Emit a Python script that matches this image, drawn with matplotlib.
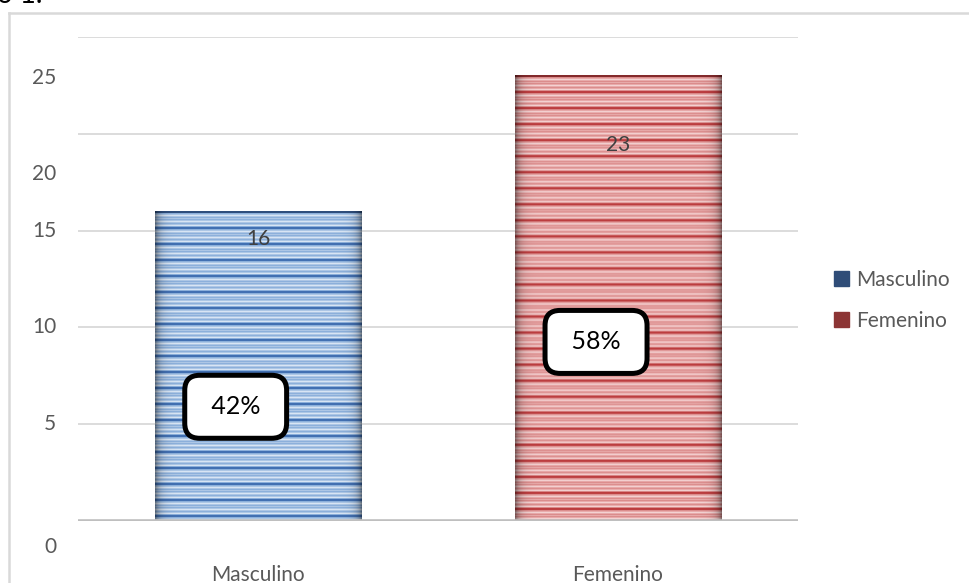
import numpy as np
import matplotlib
matplotlib.use("Agg")
import matplotlib.pyplot as plt
from matplotlib.patches import Patch
from matplotlib.lines import Line2D

plt.rcParams['font.family'] = ['Lato', 'DejaVu Sans']

# data
categories = ['Masculino', 'Femenino']
counts = [16, 23]
percent_labels = ['42%', '58%']
y_tick_labels = ['0', '5', '10', '15', '20', '25']

# layout (as laid out in the original, labels are a bit off the gridlines)
y_tick_label_pos = [-1.35, 5, 10, 15, 17.9, 22.9]
count_label_pos = [14.55, 19.4]
box_pos = [(-0.062, 5.9), (-0.061, 9.25)]
grid_levels = [5, 10, 15, 20, 25]
bar_width = 0.575

# stripe shades per series: very light, light, mid, dark
shades = {
    'Masculino': np.array([[0.85, 0.90, 0.96], [0.68, 0.78, 0.90],
                           [0.55, 0.69, 0.86], [0.26, 0.44, 0.70]]),
    'Femenino': np.array([[0.96, 0.83, 0.83], [0.91, 0.67, 0.67],
                          [0.86, 0.55, 0.55], [0.74, 0.24, 0.25]]),
}
legend_colors = ['#2f4d78', '#8c3535']
stripe_period = [3, 3, 2, 1, 0, 1, 2, 1, 2, 1, 0, 1, 2, 1, 0, 2]

fig = plt.figure(figsize=(9.7, 5.83), dpi=100)
ax = fig.add_axes([78 / 970, 62 / 583, 720 / 970, 484 / 583])
ax.set_xlim(-0.5, 1.5)
ax.set_ylim(0, 25)

for lvl in grid_levels:
    ax.axhline(lvl, color='#d9d9d9', lw=1.3, zorder=0)
ax.axhline(0, color='#bfbfbf', lw=2.6, zorder=3)

bars = ax.bar(range(len(categories)), counts, width=bar_width, color='none',
              edgecolor='none', zorder=2)

# striped texture for each bar
for bar, cat in zip(bars, categories):
    x0, y0 = bar.get_x(), bar.get_y()
    w, h = bar.get_width(), bar.get_height()
    (px0, py0), (px1, py1) = ax.transData.transform([(x0, y0), (x0 + w, y0 + h)])
    nrows, ncols = int(round(py1 - py0)), int(round(px1 - px0))
    idx = np.array([stripe_period[i % len(stripe_period)] for i in range(nrows)])
    img = shades[cat][idx][:, None, :].repeat(ncols, axis=1)
    d = np.minimum(np.arange(ncols), np.arange(ncols)[::-1])
    shade = 1 - 0.45 * np.exp(-d / 5.0)
    img = img * shade[None, :, None]
    img[:2] *= 0.7
    ax.imshow(img, extent=[x0, x0 + w, y0, y0 + h], aspect='auto',
              interpolation='bilinear', origin='upper', zorder=2,
              clip_path=bar, clip_on=True)

ax.set_xlim(-0.5, 1.5)
ax.set_ylim(0, 25)

for i, (c, ly) in enumerate(zip(counts, count_label_pos)):
    ax.text(i, ly, str(c), ha='center', va='center', fontsize=15,
            color='#404040', zorder=4)

for i, (lab, (dx, by)) in enumerate(zip(percent_labels, box_pos)):
    ax.text(i + dx, by, ' ' + lab + ' ', ha='center', va='center',
            fontsize=18, color='black', zorder=5,
            bbox=dict(boxstyle='round,pad=0.8,rounding_size=0.6',
                      fc='white', ec='black', lw=3.6))

ytr = ax.get_yaxis_transform()
for lab, pos in zip(y_tick_labels, y_tick_label_pos):
    ax.text(-0.03, pos, lab, transform=ytr, ha='right', va='center',
            fontsize=15, color='#595959', clip_on=False)

ax.set_xticks(range(len(categories)))
ax.set_xticklabels(categories, fontsize=15, color='#595959')
ax.tick_params(axis='x', length=0, pad=32)
ax.set_yticks([])
for s in ax.spines.values():
    s.set_visible(False)

handles = [Patch(facecolor=c, edgecolor=c, hatch='---') for c in legend_colors]
leg = fig.legend(handles, categories, loc='upper left',
                 bbox_to_anchor=(834 / 970, 1 - 270 / 583), frameon=False,
                 fontsize=15, labelcolor='#595959', handlelength=0.7,
                 handleheight=0.7, handletextpad=0.35, labelspacing=1.0,
                 borderpad=0, borderaxespad=0)

# outer chart frame
fig.add_artist(Line2D([9 / 970, 9 / 970], [0, 1 - 13 / 583],
                      transform=fig.transFigure, color='#d9d9d9', lw=1.8))
fig.add_artist(Line2D([9 / 970, 1], [1 - 13 / 583, 1 - 13 / 583],
                      transform=fig.transFigure, color='#d9d9d9', lw=1.8))

# caption cut off at the top of the picture
fig.text(-3 / 970, 1 - 3 / 583, 'ó 1.', ha='left', va='baseline',
         fontsize=20, color='black')

fig.savefig('out.png', dpi=100)
